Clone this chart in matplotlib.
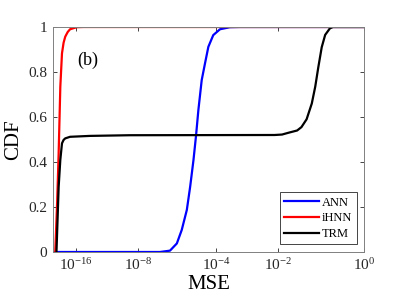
import numpy as np
import matplotlib
matplotlib.use('Agg')
import matplotlib.pyplot as plt
from matplotlib.ticker import FixedLocator, NullLocator

plt.rcParams['font.family'] = ['Liberation Serif', 'DejaVu Serif']
plt.rcParams['mathtext.fontset'] = 'custom'
plt.rcParams['mathtext.rm'] = 'Liberation Serif'
plt.rcParams['mathtext.it'] = 'Liberation Serif:italic'

# log10(MSE) and CDF values
ann_exp = [-19, -6.86, -6.35, -6.0, -5.75, -5.49, -5.32, -5.15, -5.02, -4.90,
           -4.73, -4.56, -4.39, -4.14, -3.87, -3.55, -3.22, 0]
ann_cdf = [0, 0, 0.006, 0.038, 0.098, 0.187, 0.29, 0.409, 0.517, 0.631,
           0.764, 0.839, 0.912, 0.964, 0.99, 0.999, 1.0, 1.0]

ihnn_exp = [-18.7, -18.45, -18.25, -18.03, -17.81, -17.6, -17.38, -17.05, -16.74, -15.87, -15.0, 0]
ihnn_cdf = [0, 0.22, 0.44, 0.735, 0.883, 0.93, 0.957, 0.978, 0.99, 0.999, 1.0, 1.0]

trm_exp = [-18.54, -18.25, -18.03, -17.81, -17.6, -17.38, -16.74, -14.15, -9.0, -2.1,
           -1.9, -1.75, -1.55, -1.45, -1.33, -1.21, -1.13, -1.06, -0.98, -0.9, -0.79, -0.72, 0]
trm_cdf = [0, 0.29, 0.41, 0.483, 0.498, 0.505, 0.512, 0.516, 0.519, 0.52,
           0.522, 0.53, 0.54, 0.555, 0.59, 0.66, 0.735, 0.82, 0.91, 0.965, 0.994, 1.0, 1.0]

x_tick_exp = [-16, -8, -4, -2, 0]
x_tick_labels = [r'$10^{-16}$', r'$10^{-8}$', r'$10^{-4}$', r'$10^{-2}$', r'$10^{0}$']
y_ticks = [0, 0.2, 0.4, 0.6, 0.8, 1]
y_tick_labels = ['0', '0.2', '0.4', '0.6', '0.8', '1']

# the original axis is not evenly spaced in decades; map it piecewise
axis_exp = [-19, -16, -8, -4, -2, 0]
axis_pos = [0.0, 22.7, 84.7, 163.0, 224.7, 311.0]


def fwd(x):
    x = np.asarray(x, dtype=float)
    e = np.log10(np.clip(x, 1e-300, None))
    return np.interp(e, axis_exp, axis_pos)


def inv(p):
    return 10.0 ** np.interp(p, axis_pos, axis_exp)


fig = plt.figure(figsize=(4.02, 3.01), dpi=100)
ax = fig.add_axes([0.1318, 0.1628, 0.7737, 0.7475])
ax.set_xscale('function', functions=(fwd, inv))

lw = 1.6
ax.plot(10.0 ** np.array(ann_exp), ann_cdf, color='#0000ff', lw=lw, label='ANN')
ax.plot(10.0 ** np.array(ihnn_exp), ihnn_cdf, color='#ff0000', lw=lw, label='iHNN')
ax.plot(10.0 ** np.array(trm_exp), trm_cdf, color='black', lw=lw, label='TRM')

ax.set_xlim(1e-19, 1)
ax.set_ylim(0, 1)
ax.xaxis.set_major_locator(FixedLocator([10.0 ** e for e in x_tick_exp]))
ax.xaxis.set_minor_locator(NullLocator())
ax.set_xticklabels(x_tick_labels)
ax.set_yticks(y_ticks)
ax.set_yticklabels(y_tick_labels)

ax.tick_params(direction='in', top=True, right=True, labelsize=11, length=3,
               width=0.6, colors='#262626', pad=4)
for s in ax.spines.values():
    s.set_color('#808080')
    s.set_linewidth(0.7)

ax.set_xlabel('MSE', fontsize=15, labelpad=1)
ax.set_ylabel('CDF', fontsize=15, labelpad=4)

ax.text(0.077, 0.85, '(b)', transform=ax.transAxes, fontsize=13, va='center')

leg = ax.legend(loc='lower right', fontsize=9, fancybox=False, framealpha=1,
                edgecolor='#262626', handlelength=2.8, handletextpad=0.2,
                borderpad=0.35, labelspacing=0.3, borderaxespad=0.6)
leg.get_frame().set_linewidth(0.6)

fig.savefig('out.png', dpi=100)
